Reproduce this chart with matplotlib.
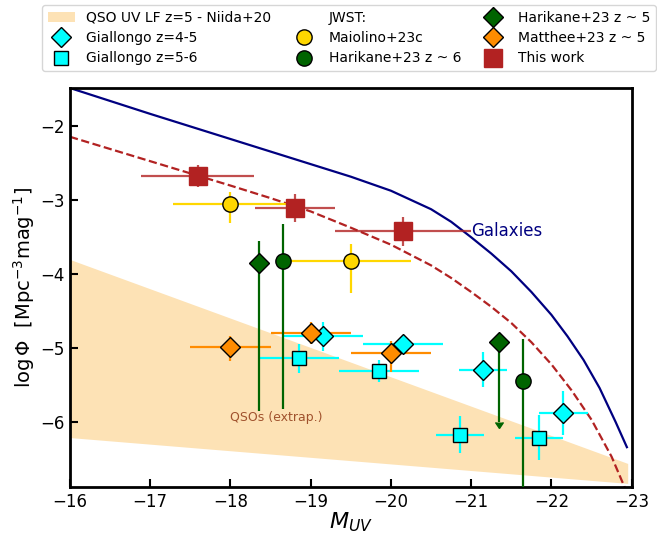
import matplotlib
matplotlib.use("Agg")
from matplotlib import pyplot as plt
from matplotlib.lines import Line2D
from matplotlib.patches import Patch
import numpy as np

# QSO UV LF band (Niida+20), straight edges
qso_x = [-16.0, -22.95]
qso_hi = [-3.80, -6.56]
qso_lo = [-6.21, -6.83]

# galaxy UV LF curve
gal_x = [-16.0, -17.0, -18.0, -19.0, -19.5, -20.0, -20.5, -20.75, -21.0,
         -21.25, -21.5, -21.75, -22.0, -22.2, -22.4, -22.6, -22.8, -22.94]
gal_y = [-1.48, -1.83, -2.17, -2.51, -2.68, -2.87, -3.12, -3.29, -3.50,
         -3.72, -3.96, -4.24, -4.55, -4.84, -5.16, -5.54, -6.00, -6.34]

# dashed "This work" fit
fit_x = [-16.0, -17.0, -18.0, -18.5, -19.0, -19.5, -20.0, -20.5, -20.75,
         -21.0, -21.25, -21.5, -21.75, -22.0, -22.25, -22.5, -22.75, -22.95]
fit_y = [-2.14, -2.47, -2.80, -2.97, -3.15, -3.37, -3.60, -3.88, -4.05,
         -4.24, -4.44, -4.66, -4.92, -5.22, -5.57, -5.97, -6.47, -6.98]

# Giallongo z=4-5
g45_x = [-19.15, -20.15, -21.15, -22.15]
g45_y = [-4.84, -4.94, -5.29, -5.88]
g45_xerr = [0.5, 0.5, 0.3, 0.3]
g45_yerr = [0.2, 0.12, 0.24, 0.3]

# Giallongo z=5-6
g56_x = [-18.85, -19.85, -20.86, -21.85]
g56_y = [-5.14, -5.31, -6.17, -6.21]
g56_xerr = [0.5, 0.5, 0.3, 0.3]
g56_yerr = [0.2, 0.15, 0.25, 0.3]

# Maiolino+23c
mai_x = [-18.0, -19.5]
mai_y = [-3.05, -3.82]
mai_xerr = [0.72, 0.75]
mai_yerr_lo = [0.26, 0.44]
mai_yerr_hi = [0.16, 0.23]

# Harikane+23 z~6
h6_x = [-18.65, -21.65]
h6_y = [-3.82, -5.45]
h6_yerr_lo = [2.0, 2.0]
h6_yerr_hi = [0.5, 0.58]

# Harikane+23 z~5 (second one is an upper limit)
h5_x = [-18.35, -21.35]
h5_y = [-3.85, -4.92]
h5_yerr_lo = [2.0, 1.08]
h5_yerr_hi = [0.3, 0.0]
h5_uplim = [False, True]

# Matthee+23 z~5
mat_x = [-18.0, -19.0, -20.0]
mat_y = [-4.98, -4.80, -5.07]
mat_xerr = [0.5, 0.5, 0.5]
mat_yerr_lo = [0.2, 0.15, 0.25]
mat_yerr_hi = [0.15, 0.15, 0.17]

# This work
tw_x = [-17.59, -18.80, -20.15]
tw_y = [-2.67, -3.10, -3.42]
tw_xerr = [0.7, 0.5, 0.85]
tw_yerr = [0.15, 0.19, 0.2]

fig = plt.figure(figsize=(6.57, 5.4), dpi=100)
ax = fig.add_axes([0.1065, 0.098, 0.855, 0.739])

ax.fill_between(qso_x, qso_lo, qso_hi, color='#fde2b5', lw=0, zorder=0)
ax.plot(gal_x, gal_y, color='navy', lw=1.6, zorder=1)
ax.plot(fit_x, fit_y, color='firebrick', lw=1.6, ls='--', zorder=1)

eb = dict(capsize=0, elinewidth=1.6, linestyle='none', markeredgecolor='k',
          markeredgewidth=1.0)

ax.errorbar(g45_x, g45_y, xerr=g45_xerr, yerr=g45_yerr, fmt='D', ms=10.5,
            color='cyan', ecolor='cyan', zorder=3, **eb)
ax.errorbar(g56_x, g56_y, xerr=g56_xerr, yerr=g56_yerr, fmt='s', ms=10,
            color='cyan', ecolor='cyan', zorder=3, **eb)
ax.errorbar(mat_x, mat_y, xerr=mat_xerr, yerr=[mat_yerr_lo, mat_yerr_hi],
            fmt='D', ms=10.5, color='darkorange', ecolor='darkorange', zorder=3, **eb)
ax.errorbar(mai_x, mai_y, xerr=mai_xerr, yerr=[mai_yerr_lo, mai_yerr_hi],
            fmt='o', ms=11, color='gold', ecolor='gold', zorder=3, **eb)
ax.errorbar(h6_x, h6_y, yerr=[h6_yerr_lo, h6_yerr_hi], fmt='o', ms=11,
            color='darkgreen', ecolor='darkgreen', zorder=3, **eb)
ax.errorbar(h5_x, h5_y, yerr=[h5_yerr_lo, h5_yerr_hi], uplims=h5_uplim,
            fmt='D', ms=10.5, color='darkgreen', ecolor='darkgreen', zorder=3, **eb)
ax.errorbar(tw_x, tw_y, xerr=tw_xerr, yerr=tw_yerr, fmt='s', ms=13,
            color='firebrick', ecolor=(0.698, 0.133, 0.133, 0.8), capsize=0,
            elinewidth=1.6, linestyle='none', zorder=4)

ax.text(-21.0, -3.42, 'Galaxies', color='navy', fontsize=12, ha='left', va='center')
ax.text(-18.0, -5.94, 'QSOs (extrap.)', color='sienna', fontsize=9, ha='left', va='center')

ax.set_xlim(-16, -23)
ax.set_ylim(-6.88, -1.48)
ax.set_xticks([-16, -17, -18, -19, -20, -21, -22, -23])
ax.set_yticks([-2, -3, -4, -5, -6])
ax.tick_params(direction='in', length=6, width=1.5, labelsize=12, pad=4)
for s in ax.spines.values():
    s.set_linewidth(2)
ax.set_xlabel('$M_{UV}$', fontsize=16, labelpad=0)
ax.set_ylabel(r'log$\,\Phi$  [Mpc$^{-3}$mag$^{-1}$]', fontsize=14, labelpad=2)

mk = dict(linestyle='none', markeredgecolor='k', markeredgewidth=1.0)
handles = [
    Patch(facecolor='#fde2b5', edgecolor='none'),
    Line2D([], [], marker='D', ms=10.5, color='cyan', **mk),
    Line2D([], [], marker='s', ms=10, color='cyan', **mk),
    Line2D([], [], linestyle='none', marker=None),
    Line2D([], [], marker='o', ms=11, color='gold', **mk),
    Line2D([], [], marker='o', ms=11, color='darkgreen', **mk),
    Line2D([], [], marker='D', ms=10.5, color='darkgreen', **mk),
    Line2D([], [], marker='D', ms=10.5, color='darkorange', **mk),
    Line2D([], [], marker='s', ms=13, color='firebrick', linestyle='none'),
]
labels = ['QSO UV LF z=5 - Niida+20', 'Giallongo z=4-5', 'Giallongo z=5-6',
          'JWST:', 'Maiolino+23c', 'Harikane+23 z ~ 6',
          'Harikane+23 z ~ 5', 'Matthee+23 z ~ 5', 'This work']
fig.legend(handles, labels, loc='upper left', bbox_to_anchor=(0.064, 0.99),
           ncol=3, fontsize=10, columnspacing=1.3, handletextpad=0.8,
           labelspacing=0.45, borderaxespad=0)

fig.savefig('out.png', dpi=100)
